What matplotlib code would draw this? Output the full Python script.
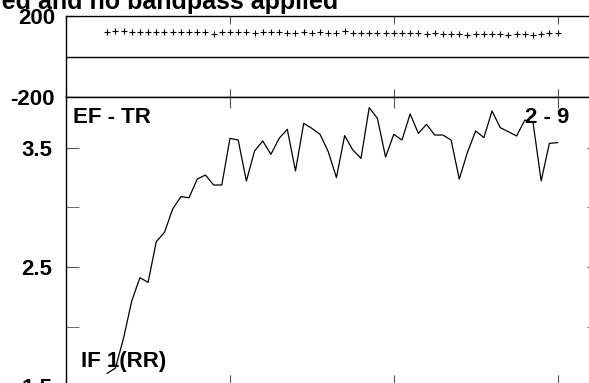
import numpy as np
import matplotlib
matplotlib.use("Agg")
import matplotlib.pyplot as plt

plt.rcParams['font.family'] = ['Liberation Sans', 'DejaVu Sans']
plt.rcParams['font.weight'] = 'bold'

# lag index (x) shared by both panels
lags = list(range(5, 61))

# top panel: phase values (+ markers)
phase = [122, 128, 124, 122, 123, 121, 122, 120, 121, 122, 121, 120, 119, 113,
         120, 121, 119, 120, 118, 122, 121, 119, 118, 117, 119, 118, 120, 116,
         117, 124, 118, 117, 116, 117, 115, 116, 114, 116, 115, 110, 114, 113,
         112, 110, 108, 112, 109, 110, 111, 108, 110, 109, 106, 111, 118, 118]

# lower panel: IF 1(RR) curve
if_rr = [1.607, 1.649, 1.901, 2.214, 2.410, 2.371, 2.713, 2.791, 2.987, 3.091,
         3.082, 3.239, 3.273, 3.189, 3.189, 3.581, 3.567, 3.223, 3.475, 3.559,
         3.447, 3.581, 3.657, 3.307, 3.707, 3.665, 3.615, 3.469, 3.251, 3.604,
         3.483, 3.413, 3.839, 3.749, 3.424, 3.615, 3.567, 3.786, 3.623, 3.699,
         3.609, 3.609, 3.567, 3.239, 3.464, 3.643, 3.587, 3.811, 3.671, 3.637,
         3.601, 3.735, 3.716, 3.223, 3.539, 3.545]

xticks = [0, 20, 40, 60]
top_yticks = [-200, 200]
low_major = [1.5, 2.5, 3.5]
low_minor = [2.0, 3.0]

W, H = 589, 383
fig = plt.figure(figsize=(W / 100, H / 100), dpi=100)

left = 66.2 / W
width = (598.5 - 66.2) / W
ax_top = fig.add_axes([left, 1 - 97 / H, width, 81 / H])
ax_low = fig.add_axes([left, 1 - 386 / H, width, 289 / H])

for ax in (ax_top, ax_low):
    ax.set_xlim(0, 65)
    ax.set_xticks(xticks)
    ax.tick_params(axis='x', labelbottom=False)
    for s in ax.spines.values():
        s.set_linewidth(1)
        s.set_color('black')

# top panel
ax_top.plot(lags, phase, linestyle='none', marker='+', color='black',
            markersize=5, markeredgewidth=0.8)
ax_top.axhline(0, color='black', lw=1)
ax_top.set_ylim(-200, 200)
ax_top.set_yticks(top_yticks)
ax_top.set_yticklabels([str(v) for v in top_yticks], fontsize=16, fontweight='bold')
ax_top.tick_params(axis='x', direction='in', top=True, bottom=True, length=6,
                   color='#555555')
ax_top.tick_params(axis='y', direction='in', left=True, length=6, pad=8,
                   color='#555555')

# lower panel
ax_low.plot(lags, if_rr, color='black', lw=0.9)
ax_low.set_ylim(1.5, 3.5 + 51 / 119)
ax_low.set_yticks(low_major)
ax_low.set_yticks(low_minor, minor=True)
ax_low.set_yticklabels([str(v) for v in low_major], fontsize=16, fontweight='bold')
ax_low.tick_params(axis='x', direction='in', top=True, bottom=True, length=8,
                   color='#555555')
ax_low.tick_params(axis='y', which='both', direction='in', left=True, right=True,
                   length=9, pad=10, color='#555555')

fig.text(73 / W, 1 - 123 / H, "EF - TR", fontsize=16, fontweight='bold', va='baseline')
fig.text(525 / W, 1 - 123 / H, "2 - 9", fontsize=16, fontweight='bold', va='baseline')
fig.text(81 / W, 1 - 367 / H, "IF 1(RR)", fontsize=16, fontweight='bold', va='baseline')
fig.text(338 / W, 1 - 9 / H, "Detrended and no bandpass applied", fontsize=18,
         fontweight='bold', ha='right', va='baseline')

fig.savefig("out.png", dpi=100)
